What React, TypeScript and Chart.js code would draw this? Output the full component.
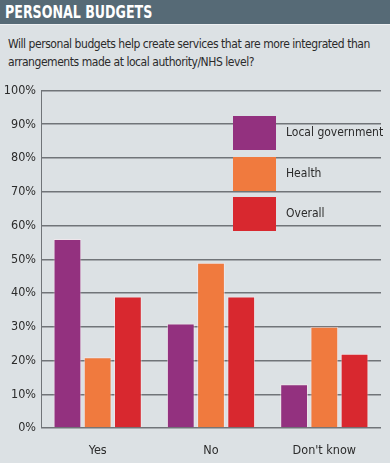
import React, { useEffect, useRef } from "react";
import { Chart, registerables } from "chart.js";

Chart.register(...registerables);

const categories = ["Yes", "No", "Don't know"];
const seriesNames = ["Local government", "Health", "Overall"];
const localGov = [56, 31, 13];
const health = [21, 49, 30];
const overall = [39, 39, 22];
const seriesColors = ["#93317f", "#f07a3e", "#d8282f"];
const yTicks = [0, 10, 20, 30, 40, 50, 60, 70, 80, 90, 100];

const FONT = "'DejaVu Sans Condensed', 'DejaVu Sans', sans-serif";

export default function App() {
  const ref = useRef<HTMLCanvasElement | null>(null);

  useEffect(() => {
    document.body.style.margin = "0";
    const canvas = ref.current;
    if (!canvas) return;
    const values = [localGov, health, overall];
    const chart = new Chart(canvas, {
      type: "bar",
      data: {
        labels: categories,
        datasets: seriesNames.map((name, i) => ({
          label: name,
          data: values[i],
          backgroundColor: seriesColors[i],
          borderColor: "rgba(255,235,240,0.55)",
          borderWidth: 1,
          categoryPercentage: 0.8,
          barPercentage: 0.92,
        })),
      },
      options: {
        animation: false,
        responsive: false,
        maintainAspectRatio: false,
        layout: { padding: { left: 0, right: 9, top: 9, bottom: 0 } },
        plugins: { legend: { display: false }, tooltip: { enabled: false } },
        scales: {
          x: {
            grid: { display: false },
            border: { display: false },
            ticks: {
              color: "#2b2b2b",
              font: { family: FONT, size: 12.5 },
              padding: 7,
            },
            afterFit: (s: any) => {
              s.height = 33;
            },
          },
          y: {
            min: 0,
            max: 100,
            afterBuildTicks: (s: any) => {
              s.ticks = yTicks.map((v) => ({ value: v }));
            },
            grid: {
              color: "#707478",
              lineWidth: 1.5,
              drawTicks: false,
            },
            border: { display: true, color: "#707478", width: 1 },
            ticks: {
              color: "#2b2b2b",
              font: { family: FONT, size: 12.5 },
              padding: 5,
              callback: (v: any) => v + "%",
            },
            afterFit: (s: any) => {
              s.width = 41;
            },
          },
        },
      },
    });
    return () => chart.destroy();
  }, []);

  return (
    <div
      style={{
        position: "relative",
        width: 390,
        height: 463,
        background: "#dce1e4",
        overflow: "hidden",
        fontFamily: FONT,
      }}
    >
      <div
        style={{
          position: "absolute",
          left: 0,
          top: 0,
          width: 390,
          height: 24,
          background: "#566a76",
          borderBottom: "1px solid #eef0f2",
        }}
      >
        <div
          style={{
            position: "absolute",
            left: 5,
            top: 1,
            color: "#ffffff",
            fontWeight: 700,
            fontSize: 18,
            lineHeight: "22px",
            whiteSpace: "nowrap",
            transform: "scaleX(0.78)",
            transformOrigin: "left center",
          }}
        >
          PERSONAL BUDGETS
        </div>
      </div>
      <div
        style={{
          position: "absolute",
          left: 8,
          top: 35,
          width: 382,
          color: "#2b2b2b",
          fontSize: 12,
          letterSpacing: -0.45,
          lineHeight: "18px",
          whiteSpace: "nowrap",
        }}
      >
        Will personal budgets help create services that are more integrated than
        <br />
        arrangements made at local authority/NHS level?
      </div>
      <canvas
        ref={ref}
        width={390}
        height={383}
        style={{ position: "absolute", left: 0, top: 78, width: 390, height: 383 }}
      />
      {seriesNames.map((name, i) => (
        <div key={name}>
          <div
            style={{
              position: "absolute",
              left: 233,
              top: 116 + i * 40.5,
              width: 43,
              height: 34,
              background: seriesColors[i],
            }}
          />
          <div
            style={{
              position: "absolute",
              left: 286,
              top: 124 + i * 40.5,
              color: "#2b2b2b",
              fontSize: 12,
              lineHeight: "16px",
              whiteSpace: "nowrap",
            }}
          >
            {name}
          </div>
        </div>
      ))}
    </div>
  );
}
